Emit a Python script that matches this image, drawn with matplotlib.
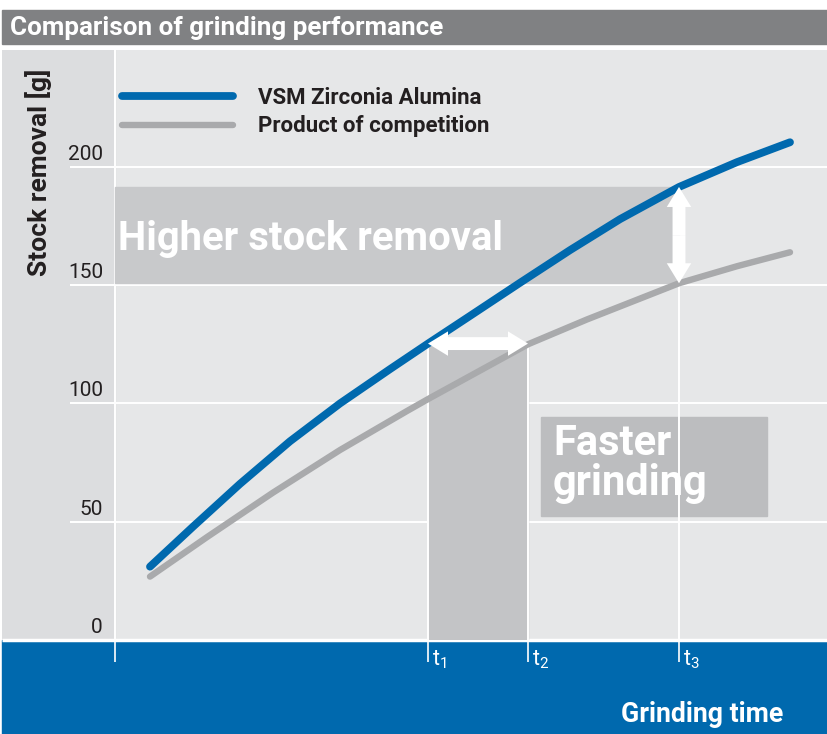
import matplotlib
matplotlib.use("Agg")
import matplotlib.pyplot as plt
from matplotlib import font_manager
from matplotlib.patches import Rectangle, FancyArrowPatch

# --- data (time in arbitrary units, stock removal in g)
time_vsm = [0.35, 0.78, 1.25, 1.75, 2.25, 2.75, 3.13, 3.55, 4.05, 4.55, 5.05, 5.64, 6.22, 6.75]
stock_vsm = [31.0, 47.9, 66.0, 84.0, 100.0, 114.5, 125.3, 137.0, 151.0, 164.8, 177.9, 191.5, 202.0, 210.4]
time_comp = [0.35, 0.92, 1.58, 2.25, 2.92, 3.15, 4.13, 4.72, 5.64, 6.22, 6.75]
stock_comp = [26.8, 43.5, 62.3, 80.3, 96.8, 102.3, 125.0, 135.5, 150.8, 158.0, 163.9]

t_marks = [3.13, 4.13, 5.64]
t_labels = [r"$\mathregular{t_1}$", r"$\mathregular{t_2}$", r"$\mathregular{t_3}$"]
y_ticks = [0, 50, 100, 150, 200]
series_names = ["VSM Zirconia Alumina", "Product of competition"]

# values at the marked times
t1_stock = 125.3   # VSM at t1
t2_stock = 125.0   # competition at t2
t3_vsm = 191.5
t3_comp = 150.8

BLUE = "#0069ae"
GREY_LINE = "#a9aaac"
BG = "#e6e7e8"
STRIP = "#dcdddf"
TEXT = "#231f20"

names = {f.name for f in font_manager.fontManager.ttflist}
fam = [n for n in ["Roboto", "DejaVu Sans"] if n in names]
plt.rcParams["font.family"] = fam

fig = plt.figure(figsize=(8.28, 7.34), dpi=100)
W, H = 828, 734

# title bar and bottom band
fig.patches.append(Rectangle((2 / W, 1 - 44 / H), 826 / W, 34 / H, transform=fig.transFigure,
                             color="#808183", zorder=-1))
fig.patches.append(Rectangle((2 / W, 0), 826 / W, 94 / H, transform=fig.transFigure,
                             color=BLUE, zorder=-1))
fig.text(10 / W, 1 - 35 / H, "Comparison of grinding performance", color="white",
         fontsize=18.7, fontweight="bold", va="baseline")
fig.text(783 / W, 1 - 722 / H, "Grinding time", color="white", fontsize=19.2,
         fontweight="bold", ha="right", va="baseline")

ax = fig.add_axes([2 / W, 94 / H, 826 / W, 590 / H])
ax.set_xlim(-1.13, 7.13)
ax.set_ylim(0, 249.4)
ax.set_facecolor(BG)
for s in ax.spines.values():
    s.set_visible(False)
ax.set_yticks([])
ax.set_xticks([0] + t_marks)
ax.tick_params(axis="x", direction="out", length=16, width=1.2, color="white",
               labelbottom=False)

ax.axvspan(-1.13, 0, color=STRIP, zorder=0)

# grid
ax.hlines(y_ticks[1:], -0.45, 7.13, color="white", lw=1.4, zorder=1)
ax.hlines(0, -1.13, 7.13, color="white", lw=2.5, zorder=1, clip_on=False)
ax.axvline(0, color="white", lw=1.4, zorder=1)
for v in y_ticks:
    ax.text(-0.12, v + 3, str(v), ha="right", va="baseline", fontsize=15, color=TEXT)
ax.text(-0.76, 197.5, "Stock removal [g]", rotation=90, ha="center", va="center",
        fontsize=19, fontweight="bold", color=TEXT)

# highlight areas
ax.add_patch(Rectangle((0, t3_comp), t_marks[2], t3_vsm - t3_comp, color="#c8c9cb", zorder=2))
ax.add_patch(Rectangle((t_marks[0], 0), t_marks[1] - t_marks[0], t1_stock, color="#c3c4c6", zorder=2))
ax.add_patch(Rectangle((4.26, 52.4), 2.26, 41.9, color="#bcbdbf", zorder=2))
ax.vlines(t_marks, 0, [t1_stock, t2_stock, t3_comp], color="white", lw=1.4, zorder=3)

ax.text(0.03, 164.8, "Higher stock removal", color="white", fontsize=28.8,
        fontweight="bold", va="baseline", zorder=4)
ax.text(4.38, 78.2, "Faster", color="white", fontsize=30, fontweight="bold",
        va="baseline", zorder=4)
ax.text(4.38, 61.3, "grinding", color="white", fontsize=30, fontweight="bold",
        va="baseline", zorder=4)

# curves
ax.plot(time_comp, stock_comp, color=GREY_LINE, lw=4.6, solid_capstyle="round",
        solid_joinstyle="round", label=series_names[1], zorder=5)
ax.plot(time_vsm, stock_vsm, color=BLUE, lw=5.6, solid_capstyle="round",
        solid_joinstyle="round", label=series_names[0], zorder=6)


def double_arrow(p0, p1):
    mid = ((p0[0] + p1[0]) / 2, (p0[1] + p1[1]) / 2)
    for end in (p0, p1):
        ax.add_patch(FancyArrowPatch(mid, end, arrowstyle="simple,head_length=0.9,head_width=1.1,tail_width=0.58",
                                     mutation_scale=16, color="white", lw=0,
                                     shrinkA=0, shrinkB=0, zorder=7))


double_arrow((t_marks[2], t3_comp), (t_marks[2], t3_vsm))
double_arrow((t_marks[0], t1_stock), (t_marks[1], t1_stock))

# time labels under the axis
for t, lab in zip(t_marks, t_labels):
    ax.text(t + 0.04, -0.014, lab, transform=ax.get_xaxis_transform(), color="white",
            fontsize=15.5, ha="left", va="top")

handles, labels = ax.get_legend_handles_labels()
leg = ax.legend(handles[::-1], labels[::-1], loc="upper left", bbox_to_anchor=(0.1455, 0.937),
                frameon=False, handlelength=5.0, handletextpad=1.09, labelspacing=0.28,
                borderpad=0, borderaxespad=0, prop={"weight": "bold", "size": 16})
for t in leg.get_texts():
    t.set_color(TEXT)

fig.savefig("out.png", dpi=100)
